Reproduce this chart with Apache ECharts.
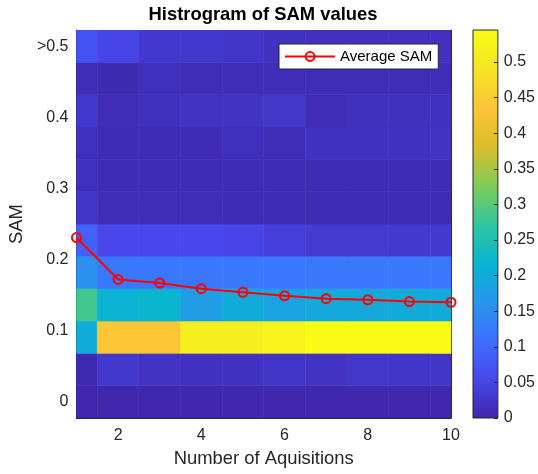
<!DOCTYPE html>
<html>
<head>
<meta charset="utf-8">
<script src="https://cdn.jsdelivr.net/npm/echarts@6/dist/echarts.min.js"></script>
<style>
html,body{margin:0;padding:0;background:#fff;}
#chart{width:538px;height:474px;}
</style>
</head>
<body>
<div id="chart"></div>
<script>
// ---- data ----
const ACQUISITIONS = [1, 2, 3, 4, 5, 6, 7, 8, 9, 10];
const SAM_BINS = [0, 0.04545, 0.09091, 0.13636, 0.18182, 0.22727, 0.27273, 0.31818, 0.36364, 0.40909, 0.45455, 0.5];
// fraction of pixels per SAM bin (rows bottom -> top), columns = number of acquisitions 1..10
const BIN_00 = [0.004, 0.004, 0.004, 0.004, 0.004, 0.004, 0.004, 0.004, 0.004, 0.004];
const BIN_01 = [0.008, 0.030, 0.022, 0.020, 0.020, 0.026, 0.022, 0.028, 0.026, 0.026];
const BIN_02 = [0.200, 0.440, 0.440, 0.510, 0.510, 0.525, 0.545, 0.545, 0.545, 0.545];
const BIN_03 = [0.285, 0.215, 0.220, 0.175, 0.200, 0.185, 0.195, 0.195, 0.200, 0.200];
const BIN_04 = [0.155, 0.120, 0.120, 0.122, 0.122, 0.120, 0.120, 0.122, 0.120, 0.120];
const BIN_05 = [0.093, 0.055, 0.055, 0.055, 0.052, 0.040, 0.035, 0.035, 0.033, 0.033];
const BIN_06 = [0.025, 0.012, 0.012, 0.012, 0.010, 0.010, 0.010, 0.010, 0.010, 0.010];
const BIN_07 = [0.015, 0.010, 0.010, 0.010, 0.010, 0.010, 0.010, 0.010, 0.010, 0.010];
const BIN_08 = [0.015, 0.010, 0.010, 0.010, 0.015, 0.012, 0.020, 0.020, 0.020, 0.022];
const BIN_09 = [0.030, 0.012, 0.018, 0.022, 0.022, 0.028, 0.012, 0.018, 0.018, 0.020];
const BIN_10 = [0.012, 0.008, 0.015, 0.012, 0.012, 0.012, 0.012, 0.012, 0.012, 0.012];
const BIN_11 = [0.070, 0.050, 0.030, 0.030, 0.025, 0.020, 0.018, 0.018, 0.018, 0.018];
const AVERAGE_SAM = [0.231, 0.172, 0.167, 0.159, 0.154, 0.149, 0.145, 0.1435, 0.141, 0.140];
const Y_TICKS = [0, 0.1, 0.2, 0.3, 0.4, 0.5];
const Y_TICK_LABELS = ['0', '0.1', '0.2', '0.3', '0.4', '>0.5'];
const X_TICK_LABELS = ['2', '4', '6', '8', '10'];
const CBAR_TICKS = [0, 0.05, 0.1, 0.15, 0.2, 0.25, 0.3, 0.35, 0.4, 0.45, 0.5];
const CBAR_TICK_LABELS = ['0', '0.05', '0.1', '0.15', '0.2', '0.25', '0.3', '0.35', '0.4', '0.45', '0.5'];
const CBAR_MAX = 0.545;
const PARULA = ['#3E26A8', '#4747EB', '#3E6FFF', '#2796EB', '#08B5D0', '#31C69F', '#81CC59', '#DCBD29', '#FEC438', '#F5E623', '#F9FB15'];

const HIST_ROWS = [BIN_00, BIN_01, BIN_02, BIN_03, BIN_04, BIN_05, BIN_06, BIN_07, BIN_08, BIN_09, BIN_10, BIN_11];
const BIN_H = SAM_BINS[1] - SAM_BINS[0];
const cells = [];
HIST_ROWS.forEach(function (row, k) {
  row.forEach(function (v, i) { cells.push([ACQUISITIONS[i], SAM_BINS[k], v]); });
});
const avgData = ACQUISITIONS.map(function (x, i) { return [x, AVERAGE_SAM[i]]; });

const FONT = 'Liberation Sans, Arial, Helvetica, sans-serif';
const AX = '#262626';

function labelFrom(ticks, labels) {
  return function (v) {
    for (let i = 0; i < ticks.length; i++) {
      if (Math.abs(v - ticks[i]) < 1e-6) return labels[i];
    }
    return '';
  };
}
const X_TICK_VALUES = X_TICK_LABELS.map(Number);

const chart = echarts.init(document.getElementById('chart'), null, {renderer: 'canvas'});

const PLOT = {left: 76, top: 30, width: 375, height: 388};
const LINE = {show: true, onZero: false, lineStyle: {color: AX, width: 1}};

const option = {
  backgroundColor: '#fff',
  animation: false,
  title: {
    text: 'Histrogram of SAM values',
    left: 258, top: 1, textAlign: 'center',
    textStyle: {fontFamily: FONT, fontSize: 18.4, fontWeight: 'bold', color: '#000'}
  },
  legend: {
    left: 279, top: 44,
    padding: [5, 6, 5, 5],
    backgroundColor: '#fff',
    borderColor: AX, borderWidth: 1, borderRadius: 0,
    itemWidth: 50, itemHeight: 11, itemGap: 5,
    textStyle: {fontFamily: FONT, fontSize: 15, color: '#000'},
    data: ['Average SAM']
  },
  grid: [
    {left: PLOT.left, top: PLOT.top, width: PLOT.width, height: PLOT.height},
    {left: 473, top: 30, width: 26, height: 388}
  ],
  visualMap: {
    show: false, type: 'continuous', min: 0, max: CBAR_MAX,
    dimension: 2, seriesIndex: 0,
    inRange: {color: PARULA}
  },
  xAxis: [
    {
      type: 'value', gridIndex: 0, position: 'bottom', min: 1, max: 10, splitNumber: 5,
      name: 'Number of Aquisitions', nameLocation: 'middle', nameGap: 32,
      nameTextStyle: {fontFamily: FONT, fontSize: 18.4, color: AX},
      axisLine: LINE,
      axisTick: {show: true, inside: true, length: 5, lineStyle: {color: AX}},
      axisLabel: {fontFamily: FONT, fontSize: 16, color: AX, margin: 10,
        showMinLabel: false, formatter: labelFrom(X_TICK_VALUES, X_TICK_LABELS)},
      splitLine: {show: false}
    },
    {
      type: 'value', gridIndex: 0, position: 'top', min: 1, max: 10, splitNumber: 5,
      axisLine: LINE,
      axisTick: {show: true, inside: true, length: 5, lineStyle: {color: AX}},
      axisLabel: {show: false}, splitLine: {show: false}
    },
    {
      type: 'value', gridIndex: 1, min: 0, max: 1, show: false
    }
  ],
  yAxis: [
    {
      type: 'value', gridIndex: 0, position: 'left',
      min: SAM_BINS[0] - BIN_H / 2, max: SAM_BINS[SAM_BINS.length - 1] + BIN_H / 2, splitNumber: 5,
      name: 'SAM', nameLocation: 'middle', nameGap: 45, nameRotate: 90,
      nameTextStyle: {fontFamily: FONT, fontSize: 18.4, color: AX},
      axisLine: LINE,
      axisTick: {show: true, inside: true, length: 5, lineStyle: {color: AX}},
      axisLabel: {fontFamily: FONT, fontSize: 16, color: AX, margin: 8,
        showMinLabel: false, showMaxLabel: false, formatter: labelFrom(Y_TICKS, Y_TICK_LABELS)},
      splitLine: {show: false}
    },
    {
      type: 'value', gridIndex: 0, position: 'right',
      min: SAM_BINS[0] - BIN_H / 2, max: SAM_BINS[SAM_BINS.length - 1] + BIN_H / 2, splitNumber: 5,
      axisLine: LINE,
      axisTick: {show: true, inside: true, length: 5, lineStyle: {color: AX}},
      axisLabel: {show: false}, splitLine: {show: false}
    },
    {
      type: 'value', gridIndex: 1, position: 'right', min: 0, max: CBAR_MAX, interval: 0.05, z: 5,
      axisLine: {show: false, onZero: false},
      axisTick: {show: true, inside: true, length: 4, lineStyle: {color: AX}},
      axisLabel: {fontFamily: FONT, fontSize: 16, color: AX, margin: 6,
        showMaxLabel: false, formatter: labelFrom(CBAR_TICKS, CBAR_TICK_LABELS)},
      splitLine: {show: false}
    }
  ],
  series: [
    {
      type: 'custom', name: 'hist', xAxisIndex: 0, yAxisIndex: 0,
      encode: {x: 0, y: 1}, clip: true, z: 1,
      data: cells,
      renderItem: function (params, api) {
        const x = api.value(0), y = api.value(1);
        const p0 = api.coord([x - 0.5, y + BIN_H / 2]);
        const p1 = api.coord([x + 0.5, y - BIN_H / 2]);
        const cs = params.coordSys;
        const shape = echarts.graphic.clipRectByRect(
          {x: p0[0], y: p0[1], width: p1[0] - p0[0], height: p1[1] - p0[1]},
          {x: cs.x, y: cs.y, width: cs.width, height: cs.height});
        if (!shape) return null;
        const c = api.visual('color');
        return {type: 'rect', shape: shape, style: {fill: c, stroke: c, lineWidth: 0.6}};
      }
    },
    {
      type: 'line', name: 'Average SAM', xAxisIndex: 0, yAxisIndex: 0,
      data: avgData, clip: false, z: 5,
      symbol: 'circle', symbolSize: 9, showSymbol: true,
      lineStyle: {color: '#ff0000', width: 2},
      itemStyle: {color: 'rgba(0,0,0,0)', borderColor: '#ff0000', borderWidth: 2}
    },
    {
      type: 'custom', name: 'colorbar', xAxisIndex: 2, yAxisIndex: 2, z: 0,
      data: [[0, 0, 1, CBAR_MAX]],
      renderItem: function (params, api) {
        const p0 = api.coord([api.value(0), api.value(3)]);
        const p1 = api.coord([api.value(2), api.value(1)]);
        const stops = PARULA.map(function (c, i) { return {offset: i / (PARULA.length - 1), color: c}; });
        return {
          type: 'rect',
          shape: {x: p0[0], y: p0[1], width: p1[0] - p0[0], height: p1[1] - p0[1]},
          style: {fill: new echarts.graphic.LinearGradient(0, 1, 0, 0, stops), stroke: AX, lineWidth: 1}
        };
      }
    }
  ]
};
chart.setOption(option);
</script>
</body>
</html>
